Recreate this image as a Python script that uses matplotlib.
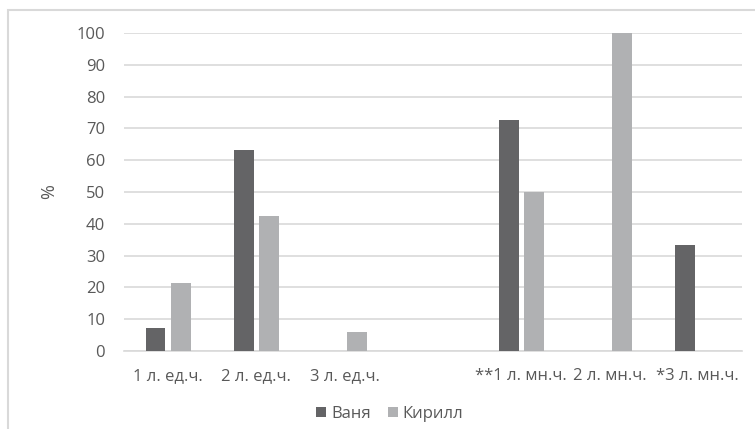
import numpy as np
import matplotlib.pyplot as plt
from matplotlib.patches import Rectangle

# категории (четвёртая — пустой промежуток между ед.ч. и мн.ч.)
categories = ["1 л. ед.ч.", "2 л. ед.ч.", "3 л. ед.ч.", "",
              "**1 л. мн.ч.", "2 л. мн.ч.", "*3 л. мн.ч."]
vanya = [7.1, 63.2, 0, 0, 72.7, 0, 33.3]
kirill = [21.4, 42.6, 6.0, 0, 50.0, 100.0, 0]
y_ticks = [0, 10, 20, 30, 40, 50, 60, 70, 80, 90, 100]

plt.rcParams['font.family'] = ['Open Sans', 'DejaVu Sans']
text_col = '#595959'
fs = 12

fig = plt.figure(figsize=(7.55, 4.29), dpi=100)
ax = fig.add_axes([0.1642, 0.1818, 0.8186, 0.7413])

x = np.arange(len(categories))
w = 0.226
gap = 0.06
ax.bar(x - (w + gap) / 2, vanya, width=w, color='#646466', label='Ваня', zorder=3)
ax.bar(x + (w + gap) / 2, kirill, width=w, color='#b0b1b3', label='Кирилл', zorder=3)

ax.set_xlim(-0.5, len(categories) - 0.5)
ax.set_ylim(0, 100)
ax.set_yticks(y_ticks)
ax.set_xticks(x)
ax.set_xticklabels(categories)
ax.tick_params(axis='both', length=0, labelsize=fs, labelcolor=text_col)
ax.tick_params(axis='x', pad=12)
ax.tick_params(axis='y', pad=13.5)

ax.grid(axis='y', color='#d9d9d9', linewidth=1.2, zorder=0)
for s in ['top', 'right', 'left']:
    ax.spines[s].set_visible(False)
ax.spines['bottom'].set_color('#d9d9d9')
ax.spines['bottom'].set_linewidth(1.2)

ax.set_ylabel('%', fontsize=13, color=text_col)
ax.yaxis.set_label_coords(-0.106, 0.5)

ax.legend(loc='upper center', bbox_to_anchor=(0.43, -0.125), ncol=2, frameon=False,
          fontsize=fs, labelcolor=text_col, handlelength=0.6, handleheight=0.6,
          handletextpad=0.3, columnspacing=1.0)

# рамка области диаграммы
fig.patches.append(Rectangle((8 / 755, -0.1), 1.2, 1 - 10 / 429 + 0.1,
                             transform=fig.transFigure, fill=False,
                             edgecolor='#d9d9d9', linewidth=1.5))

fig.savefig('out.png', dpi=100)
